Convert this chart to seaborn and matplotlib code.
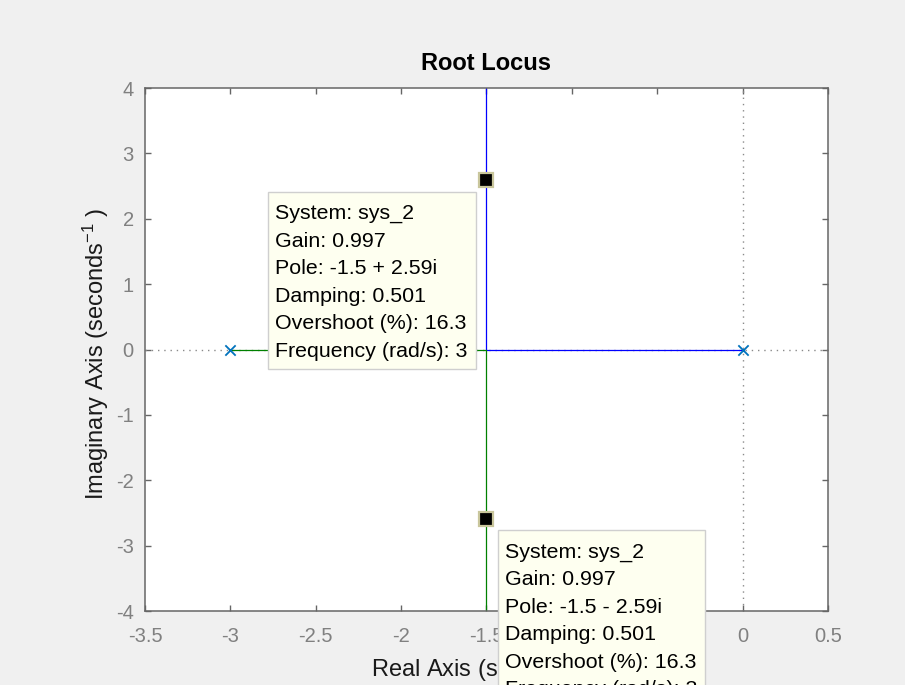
import numpy as np
import pandas as pd
import matplotlib
matplotlib.use("Agg")
import matplotlib.pyplot as plt
import matplotlib.transforms as mtransforms
from matplotlib.patches import Rectangle
import seaborn as sns

# ---------------- data ----------------
branch_names = ["sys_2 branch 1", "sys_2 branch 2"]
branch1_re = [0.0, -1.5, -1.5]
branch1_im = [0.0, 0.0, 8.0]
branch2_re = [-3.0, -1.5, -1.5]
branch2_im = [0.0, 0.0, -8.0]
open_loop_poles_re = [-3.0, 0.0]
open_loop_poles_im = [0.0, 0.0]
tip_re = [-1.5, -1.5]
tip_im = [2.59, -2.59]
tip_texts = [
    "System: sys_2\nGain: 0.997\nPole: -1.5 + 2.59i\nDamping: 0.501\nOvershoot (%): 16.3\nFrequency (rad/s): 3",
    "System: sys_2\nGain: 0.997\nPole: -1.5 - 2.59i\nDamping: 0.501\nOvershoot (%): 16.3\nFrequency (rad/s): 3",
]
xticks = [-3.5, -3, -2.5, -2, -1.5, -1, -0.5, 0, 0.5]
xtick_labels = ["-3.5", "-3", "-2.5", "-2", "-1.5", "-1", "-0.5", "0", "0.5"]
yticks = [-4, -3, -2, -1, 0, 1, 2, 3, 4]
ytick_labels = ["-4", "-3", "-2", "-1", "0", "1", "2", "3", "4"]
title = "Root Locus"
xlabel = r"Real Axis (seconds$^{-1}$)"
ylabel = r"Imaginary Axis (seconds$^{-1}$ )"

# ---------------- style ----------------
sns.set_theme(style="ticks")
plt.rcParams["font.family"] = ["Liberation Sans", "DejaVu Sans"]
plt.rcParams["mathtext.fontset"] = "custom"
plt.rcParams["mathtext.rm"] = "Liberation Sans"
plt.rcParams["mathtext.it"] = "Liberation Sans:italic"
plt.rcParams["mathtext.default"] = "regular"
plt.rcParams["axes.unicode_minus"] = False

df = pd.DataFrame({
    "re": branch1_re + branch2_re,
    "im": branch1_im + branch2_im,
    "branch": [branch_names[0]] * len(branch1_re) + [branch_names[1]] * len(branch2_re),
})
poles = pd.DataFrame({"re": open_loop_poles_re, "im": open_loop_poles_im})

fig = plt.figure(figsize=(9.05, 6.85), dpi=100, facecolor="#f0f0f0")
ax = fig.add_axes([0.1602, 0.108, 0.7547, 0.7635])
ax.set_facecolor("white")

# dotted reference axes
ax.axhline(0, color="#8a8a8a", lw=1.0, ls=(0, (1, 3.5)), zorder=1)
ax.axvline(0, color="#8a8a8a", lw=1.0, ls=(0, (1, 3.5)), zorder=1)

sns.lineplot(data=df, x="re", y="im", hue="branch", sort=False, estimator=None,
             palette={branch_names[0]: "#0000ff", branch_names[1]: "#008000"},
             lw=0.9, legend=False, ax=ax, zorder=2)
sns.scatterplot(data=poles, x="re", y="im", marker="x", color="#0072bd",
                s=55, linewidth=1.3, legend=False, ax=ax, zorder=3)

# datatip markers
ax.plot(tip_re, tip_im, ls="none", marker="s", markersize=10,
        markerfacecolor="black", markeredgecolor="#c9c69c", markeredgewidth=1.6,
        zorder=12, clip_on=False)

# datatip boxes (sizes in pixels, anchored at the tip point)
box_geom = [
    # (rect x0, rect y0, w, h, text x, text y)
    (-218.5, -189.0, 208.5, 177.5, -211.5, -24.0),
    (11.5, -260.0, 207.0, 248.5, 18.5, -24.0),
]
for (x0, y0, w, h, tx, ty), re, im, txt in zip(box_geom, tip_re, tip_im, tip_texts):
    tr = mtransforms.Affine2D() + mtransforms.ScaledTranslation(re, im, ax.transData)
    ax.add_patch(Rectangle((x0, y0), w, h, transform=tr, facecolor="#fefff0",
                           edgecolor="#cfcfcf", lw=1.0, zorder=10, clip_on=False))
    ax.annotate(txt, xy=(re, im), xycoords="data", xytext=(tx, ty),
                textcoords="offset pixels", ha="left", va="top", fontsize=15.4,
                color="black", linespacing=1.565, zorder=11, annotation_clip=False)

ax.set_xlim(-3.5, 0.5)
ax.set_ylim(-4, 4)
ax.set_xticks(xticks)
ax.set_xticklabels(xtick_labels)
ax.set_yticks(yticks)
ax.set_yticklabels(ytick_labels)

for s in ax.spines.values():
    s.set_visible(True)
    s.set_color("#666666")
    s.set_linewidth(1.1)
ax.tick_params(axis="both", which="both", direction="in", length=4.5, width=1.0,
               color="#666666", labelcolor="#808080", labelsize=14.5,
               top=True, right=True)
ax.tick_params(axis="x", pad=11.5)
ax.tick_params(axis="y", pad=8)

ax.set_title(title, fontsize=17, fontweight="bold", color="black", pad=13)
ax.set_xlabel(xlabel, fontsize=17, color="#1a1a1a", va="baseline")
ax.set_ylabel(ylabel, fontsize=17, color="#1a1a1a", va="baseline")
ax.xaxis.set_label_coords(0.5, -0.1255)
ax.yaxis.set_label_coords(-0.0605, 0.492)

fig.savefig("out.png", dpi=100, facecolor=fig.get_facecolor())
